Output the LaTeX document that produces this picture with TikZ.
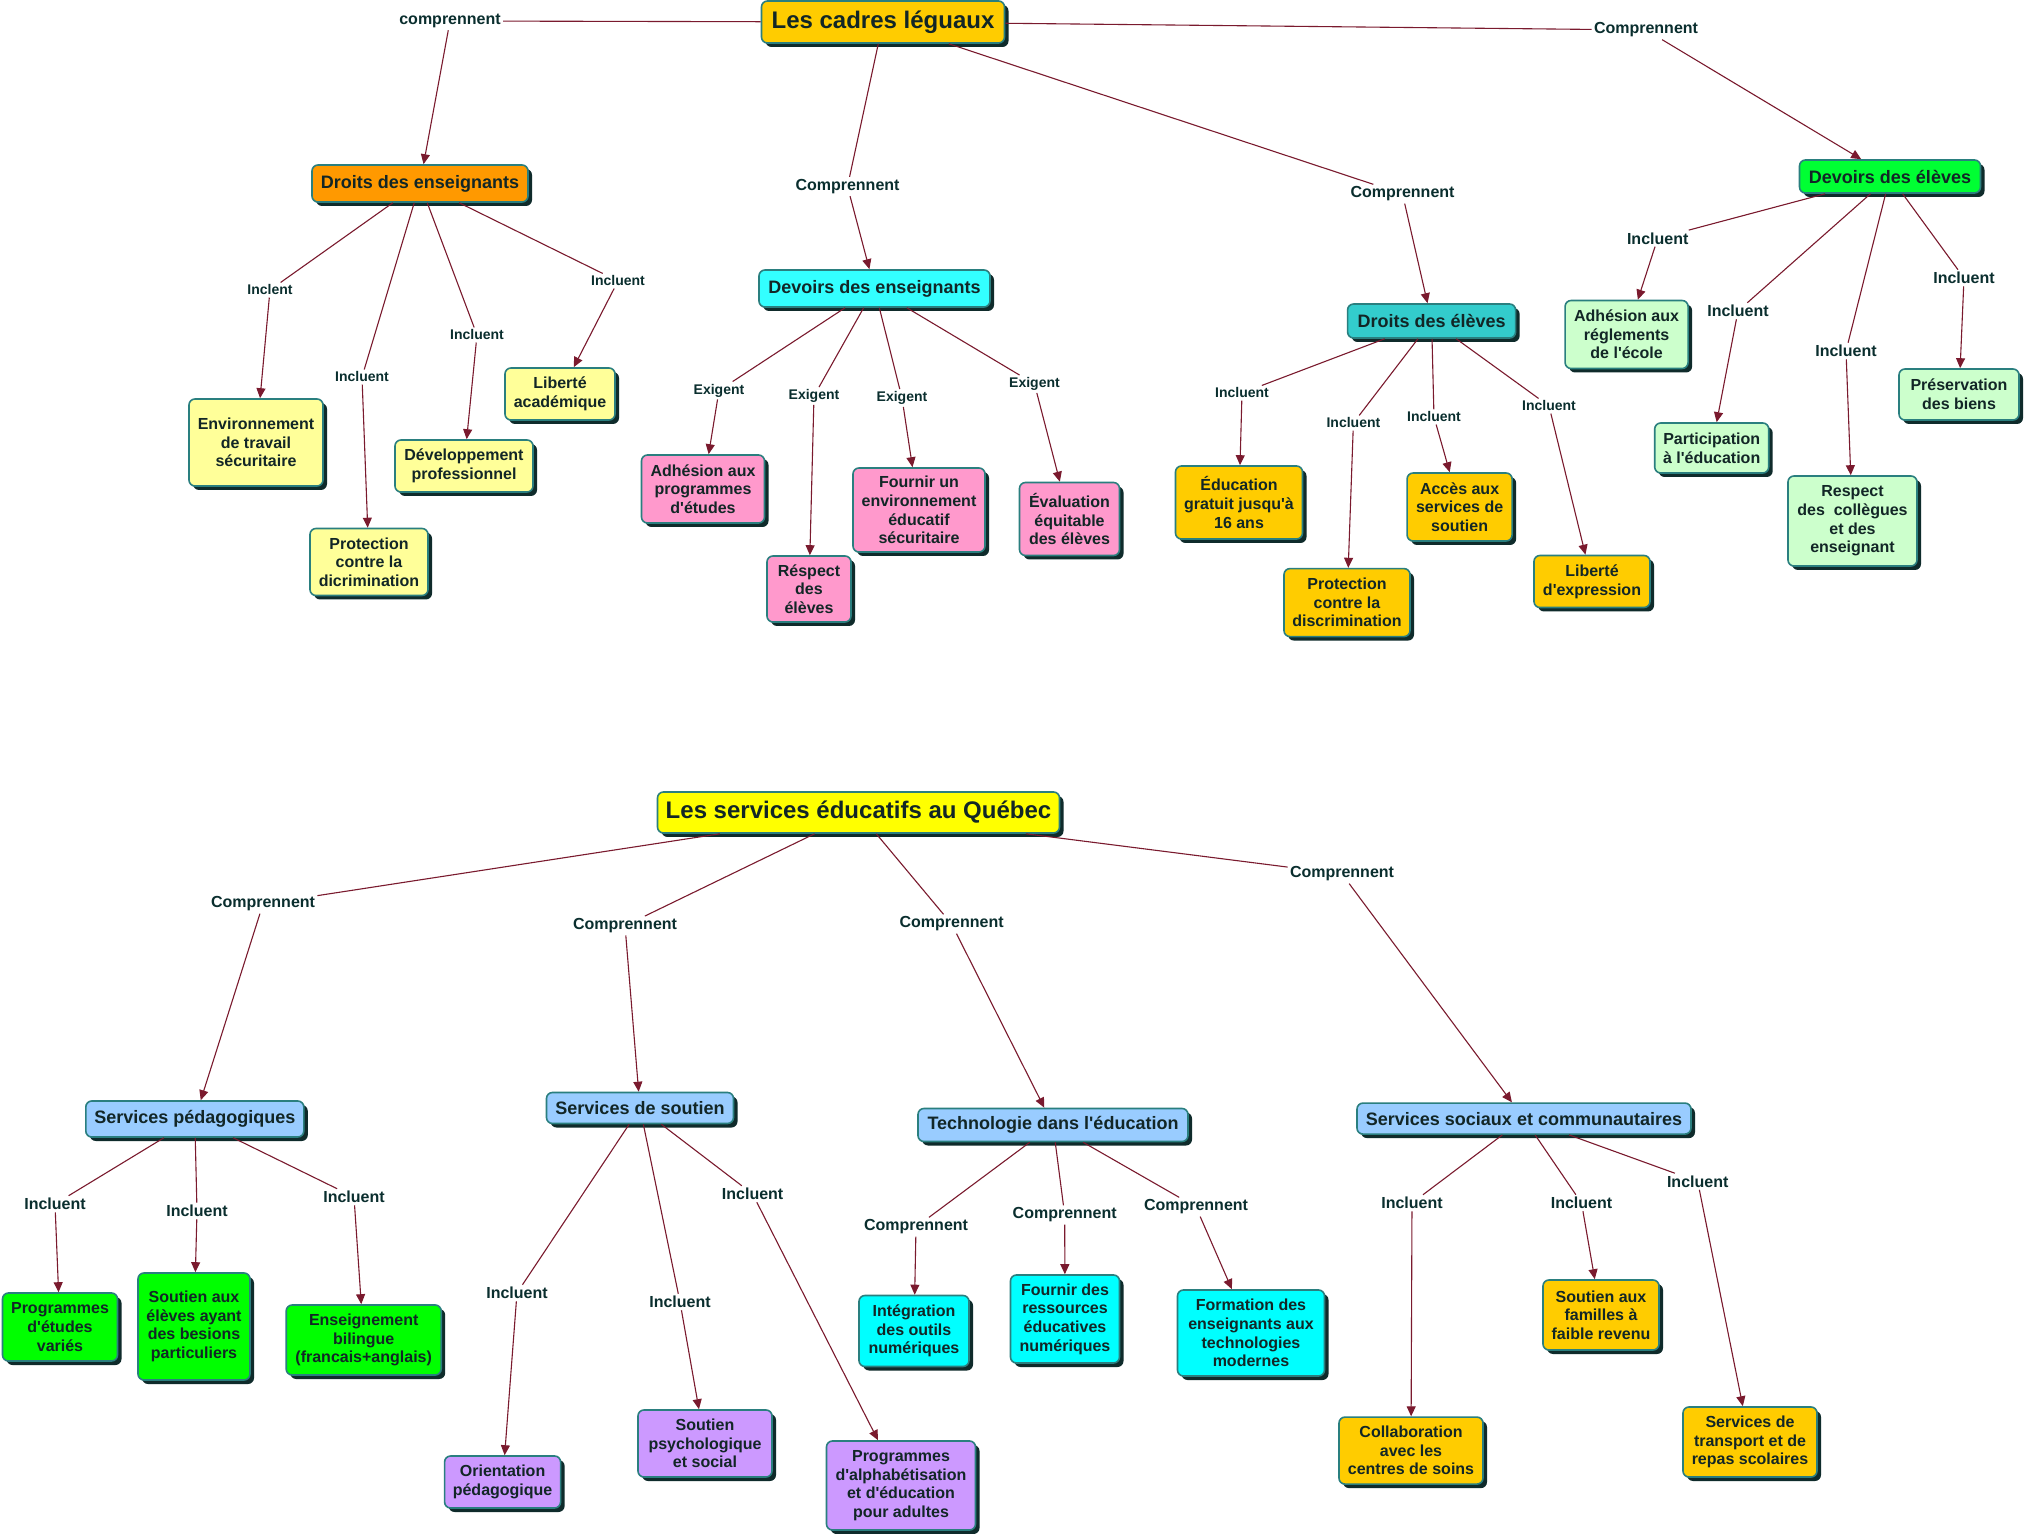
\documentclass[tikz,border=0pt]{standalone}
\usepackage{fontspec}
\setmainfont{Liberation Sans}[Ligatures=TeXOff]
\usetikzlibrary{arrows.meta,shadows}
\definecolor{edgec}{HTML}{7A1A2E}
\definecolor{bordc}{HTML}{2A7F7F}
\definecolor{shadc}{HTML}{0F2B2B}
\definecolor{txtc}{HTML}{122626}
\definecolor{lblc}{HTML}{0A2E2E}
\definecolor{cgold}{HTML}{FFCC00}
\definecolor{corange}{HTML}{FF9900}
\definecolor{ccyanl}{HTML}{33FFFF}
\definecolor{cteal}{HTML}{33CCCC}
\definecolor{cgreen}{HTML}{00FF33}
\definecolor{cyell}{HTML}{FFFF99}
\definecolor{cpink}{HTML}{FF99CC}
\definecolor{cmint}{HTML}{CCFFCC}
\definecolor{cyellow}{HTML}{FFFF00}
\definecolor{cblue}{HTML}{99CCFF}
\definecolor{cgreenb}{HTML}{00FF00}
\definecolor{cpurple}{HTML}{CC99FF}
\definecolor{ccyan}{HTML}{00FFFF}
\tikzset{
  box/.style={draw=bordc, line width=0.8pt, rounded corners=3pt, align=center,
    inner sep=1pt, text=txtc, font=\bfseries\fontsize{8}{9.3}\selectfont,
    drop shadow={shadow xshift=2pt, shadow yshift=-2pt, fill=shadc, opacity=1}},
  catbox/.style={box, font=\bfseries\fontsize{9}{10.5}\selectfont},
  titlebox/.style={box, font=\bfseries\fontsize{12}{14}\selectfont},
  sz/.style 2 args={minimum width=#1*0.5pt, minimum height=#2*0.5pt},
  lbl/.style={inner sep=1pt, text=lblc, font=\bfseries\fontsize{8}{9.3}\selectfont},
  lbls/.style={inner sep=1pt, text=lblc, font=\bfseries\fontsize{7}{8.2}\selectfont},
  ln/.style={draw=edgec, line width=0.55pt},
  lnar/.style={draw=edgec, line width=0.55pt, -{Triangle[length=5pt,width=4.5pt]}},
}
\begin{document}
\begin{tikzpicture}[x=0.5pt,y=-0.5pt]
\fill[white] (0,0) rectangle (2026,1534);
\useasboundingbox (0,0) rectangle (2026,1534);

% ---------------- TOP MAP ----------------
\node[titlebox, fill=cgold, sz={243}{42}] (cadres) at (883,22) {Les cadres léguaux};
\node[catbox, fill=corange, sz={216}{37}] (A) at (420,183.5) {Droits des enseignants};
\node[catbox, fill=ccyanl, sz={231}{37}] (B) at (874.5,288.5) {Devoirs des enseignants};
\node[catbox, fill=cteal, sz={168}{34}] (C) at (1431.6,321) {Droits des élèves};
\node[catbox, fill=cgreen, sz={181}{33}] (D) at (1890,176.5) {Devoirs des élèves};

\node[box, fill=cyell, sz={134}{87}] (a1) at (256,442.5) {Environnement\\de travail\\sécuritaire};
\node[box, fill=cyell, sz={118}{67}] (a2) at (369,562) {Protection\\contre la\\dicrimination};
\node[box, fill=cyell, sz={138}{52}] (a3) at (464,466) {Développement\\professionnel};
\node[box, fill=cyell, sz={110}{52}] (a4) at (560,394) {Liberté\\académique};

\node[box, fill=cpink, sz={123}{68}] (b1) at (703,489) {Adhésion aux\\programmes\\d'études};
\node[box, fill=cpink, sz={84}{66}] (b2) at (809,589) {Réspect\\des\\élèves};
\node[box, fill=cpink, sz={132}{84}] (b3) at (919,510) {Fournir un\\environnement\\éducatif\\sécuritaire};
\node[box, fill=cpink, sz={100}{73}] (b4) at (1069.5,519) {Évaluation\\équitable\\des élèves};

\node[box, fill=cgold, sz={127}{73}] (c1) at (1239,502.5) {Éducation\\gratuit jusqu'à\\16 ans};
\node[box, fill=cgold, sz={126}{68}] (c2) at (1347,602.6) {Protection\\contre la\\discrimination};
\node[box, fill=cgold, sz={105}{68}] (c3) at (1459.6,507) {Accès aux\\services de\\soutien};
\node[box, fill=cgold, sz={116}{52}] (c4) at (1592,581.5) {Liberté\\d'expression};

\node[box, fill=cmint, sz={123}{68}] (d1) at (1626.6,334.5) {Adhésion aux\\réglements\\de l'école};
\node[box, fill=cmint, sz={114}{50}] (d2) at (1711.7,448) {Participation\\à l'éducation};
\node[box, fill=cmint, sz={129}{90}] (d3) at (1852.5,521) {Respect\\des~ collègues\\et des\\enseignant};
\node[box, fill=cmint, sz={120}{51}] (d4) at (1959,394.5) {Préservation\\des biens};

\node[lbl] (lA) at (450,21) {comprennent};
\node[lbl] (lB) at (847.5,186.5) {Comprennent};
\node[lbl] (lC) at (1402.5,194) {Comprennent};
\node[lbl] (lD) at (1646,30) {Comprennent};
\node[lbls] (la1) at (270,290) {Inclent};
\node[lbls] (la2) at (362,377) {Incluent};
\node[lbls] (la3) at (477,335) {Incluent};
\node[lbls] (la4) at (618,281) {Incluent};
\node[lbls] (lb1) at (719,390.5) {Exigent};
\node[lbls] (lb2) at (814,396) {Exigent};
\node[lbls] (lb3) at (902,398) {Exigent};
\node[lbls] (lb4) at (1034.5,384) {Exigent};
\node[lbls] (lc1) at (1242,393) {Incluent};
\node[lbls] (lc2) at (1353.4,423) {Incluent};
\node[lbls] (lc3) at (1434,417) {Incluent};
\node[lbls] (lc4) at (1549,406) {Incluent};
\node[lbl] (ld1) at (1657.7,238.4) {Incluent};
\node[lbl] (ld2) at (1738,311) {Incluent};
\node[lbl] (ld3) at (1846,351) {Incluent};
\node[lbl] (ld4) at (1964,278) {Incluent};

\draw[ln] (cadres) -- (lA); \draw[lnar] (lA) -- (A);
\draw[ln] (cadres) -- (lB); \draw[lnar] (lB) -- (B);
\draw[ln] (cadres) -- (lC); \draw[lnar] (lC) -- (C);
\draw[ln] (cadres) -- (lD); \draw[lnar] (lD) -- (D);

\draw[ln] (A) -- (la1); \draw[lnar] (la1) -- (a1);
\draw[ln] (A) -- (la2); \draw[lnar] (la2) -- (a2);
\draw[ln] (A) -- (la3); \draw[lnar] (la3) -- (a3);
\draw[ln] (A) -- (la4); \draw[lnar] (la4) -- (a4);

\draw[ln] (B) -- (lb1); \draw[lnar] (lb1) -- (b1);
\draw[ln] (B) -- (lb2); \draw[lnar] (lb2) -- (b2);
\draw[ln] (B) -- (lb3); \draw[lnar] (lb3) -- (b3);
\draw[ln] (B) -- (lb4); \draw[lnar] (lb4) -- (b4);

\draw[ln] (C) -- (lc1); \draw[lnar] (lc1) -- (c1);
\draw[ln] (C) -- (lc2); \draw[lnar] (lc2) -- (c2);
\draw[ln] (C) -- (lc3); \draw[lnar] (lc3) -- (c3);
\draw[ln] (C) -- (lc4); \draw[lnar] (lc4) -- (c4);

\draw[ln] (D) -- (ld1); \draw[lnar] (ld1) -- (d1);
\draw[ln] (D) -- (ld2); \draw[lnar] (ld2) -- (d2);
\draw[ln] (D) -- (ld3); \draw[lnar] (ld3) -- (d3);
\draw[ln] (D) -- (ld4); \draw[lnar] (ld4) -- (d4);

% ---------------- BOTTOM MAP ----------------
\node[titlebox, fill=cyellow, sz={402}{41}] (serv) at (858.5,812.5) {Les services éducatifs au Québec};
\node[catbox, fill=cblue, sz={218}{36}] (E) at (194.8,1119) {Services pédagogiques};
\node[catbox, fill=cblue, sz={187}{31}] (F) at (640,1108) {Services de soutien};
\node[catbox, fill=cblue, sz={270}{33}] (G) at (1053,1125) {Technologie dans l'éducation};
\node[catbox, fill=cblue, sz={334}{31}] (H) at (1524,1118.6) {Services sociaux et communautaires};

\node[box, fill=cgreenb, sz={115}{68}] (e1) at (60,1327) {Programmes\\d'études\\variés};
\node[box, fill=cgreenb, sz={112}{107}] (e2) at (194,1326.5) {Soutien aux\\élèves ayant\\des besions\\particuliers};
\node[box, fill=cgreenb, sz={155}{70}] (e3) at (363.7,1340) {Enseignement\\bilingue\\(francais+anglais)};

\node[box, fill=cpurple, sz={116}{52}] (f1) at (502.6,1482) {Orientation\\pédagogique};
\node[box, fill=cpurple, sz={134}{67}] (f2) at (705,1443.5) {Soutien\\psychologique\\et social};
\node[box, fill=cpurple, sz={149}{89}] (f3) at (901,1485.5) {Programmes\\d'alphabétisation\\et d'éducation\\pour adultes};

\node[box, fill=ccyan, sz={110}{71}] (g1) at (914,1331) {Intégration\\des outils\\numériques};
\node[box, fill=ccyan, sz={109}{88}] (g2) at (1065,1319) {Fournir des\\ressources\\éducatives\\numériques};
\node[box, fill=ccyan, sz={147}{86}] (g3) at (1251,1333) {Formation des\\enseignants aux\\technologies\\modernes};

\node[box, fill=cgold, sz={144}{67}] (h1) at (1411,1450.6) {Collaboration\\avec les\\centres de soins};
\node[box, fill=cgold, sz={116}{70}] (h2) at (1601,1315) {Soutien aux\\familles à\\faible revenu};
\node[box, fill=cgold, sz={134}{70}] (h3) at (1750,1442) {Services de\\transport et de\\repas scolaires};

\node[lbl] (lE) at (263,904) {Comprennent};
\node[lbl] (lF) at (625,925.7) {Comprennent};
\node[lbl] (lG) at (951.6,924) {Comprennent};
\node[lbl] (lH) at (1342,874) {Comprennent};
\node[lbl] (le1) at (55,1204) {Incluent};
\node[lbl] (le2) at (197,1211) {Incluent};
\node[lbl] (le3) at (354,1197) {Incluent};
\node[lbl] (lf1) at (517,1293) {Incluent};
\node[lbl] (lf2) at (680,1302) {Incluent};
\node[lbl] (lf3) at (752.6,1194) {Incluent};
\node[lbl] (lg1) at (916,1227) {Comprennent};
\node[lbl] (lg2) at (1064.7,1215) {Comprennent};
\node[lbl] (lg3) at (1196,1207) {Comprennent};
\node[lbl] (lh1) at (1412,1203) {Incluent};
\node[lbl] (lh2) at (1581.5,1203) {Incluent};
\node[lbl] (lh3) at (1697.7,1181.5) {Incluent};

\draw[ln] (serv) -- (lE); \draw[lnar] (lE) -- (E);
\draw[ln] (serv) -- (lF); \draw[lnar] (lF) -- (F);
\draw[ln] (serv) -- (lG); \draw[lnar] (lG) -- (G);
\draw[ln] (serv) -- (lH); \draw[lnar] (lH) -- (H);

\draw[ln] (E) -- (le1); \draw[lnar] (le1) -- (e1);
\draw[ln] (E) -- (le2); \draw[lnar] (le2) -- (e2);
\draw[ln] (E) -- (le3); \draw[lnar] (le3) -- (e3);

\draw[ln] (F) -- (lf1); \draw[lnar] (lf1) -- (f1);
\draw[ln] (F) -- (lf2); \draw[lnar] (lf2) -- (f2);
\draw[ln] (F) -- (lf3); \draw[lnar] (lf3) -- (f3);

\draw[ln] (G) -- (lg1); \draw[lnar] (lg1) -- (g1);
\draw[ln] (G) -- (lg2); \draw[lnar] (lg2) -- (g2);
\draw[ln] (G) -- (lg3); \draw[lnar] (lg3) -- (g3);

\draw[ln] (H) -- (lh1); \draw[lnar] (lh1) -- (h1);
\draw[ln] (H) -- (lh2); \draw[lnar] (lh2) -- (h2);
\draw[ln] (H) -- (lh3); \draw[lnar] (lh3) -- (h3);
\end{tikzpicture}
\end{document}
